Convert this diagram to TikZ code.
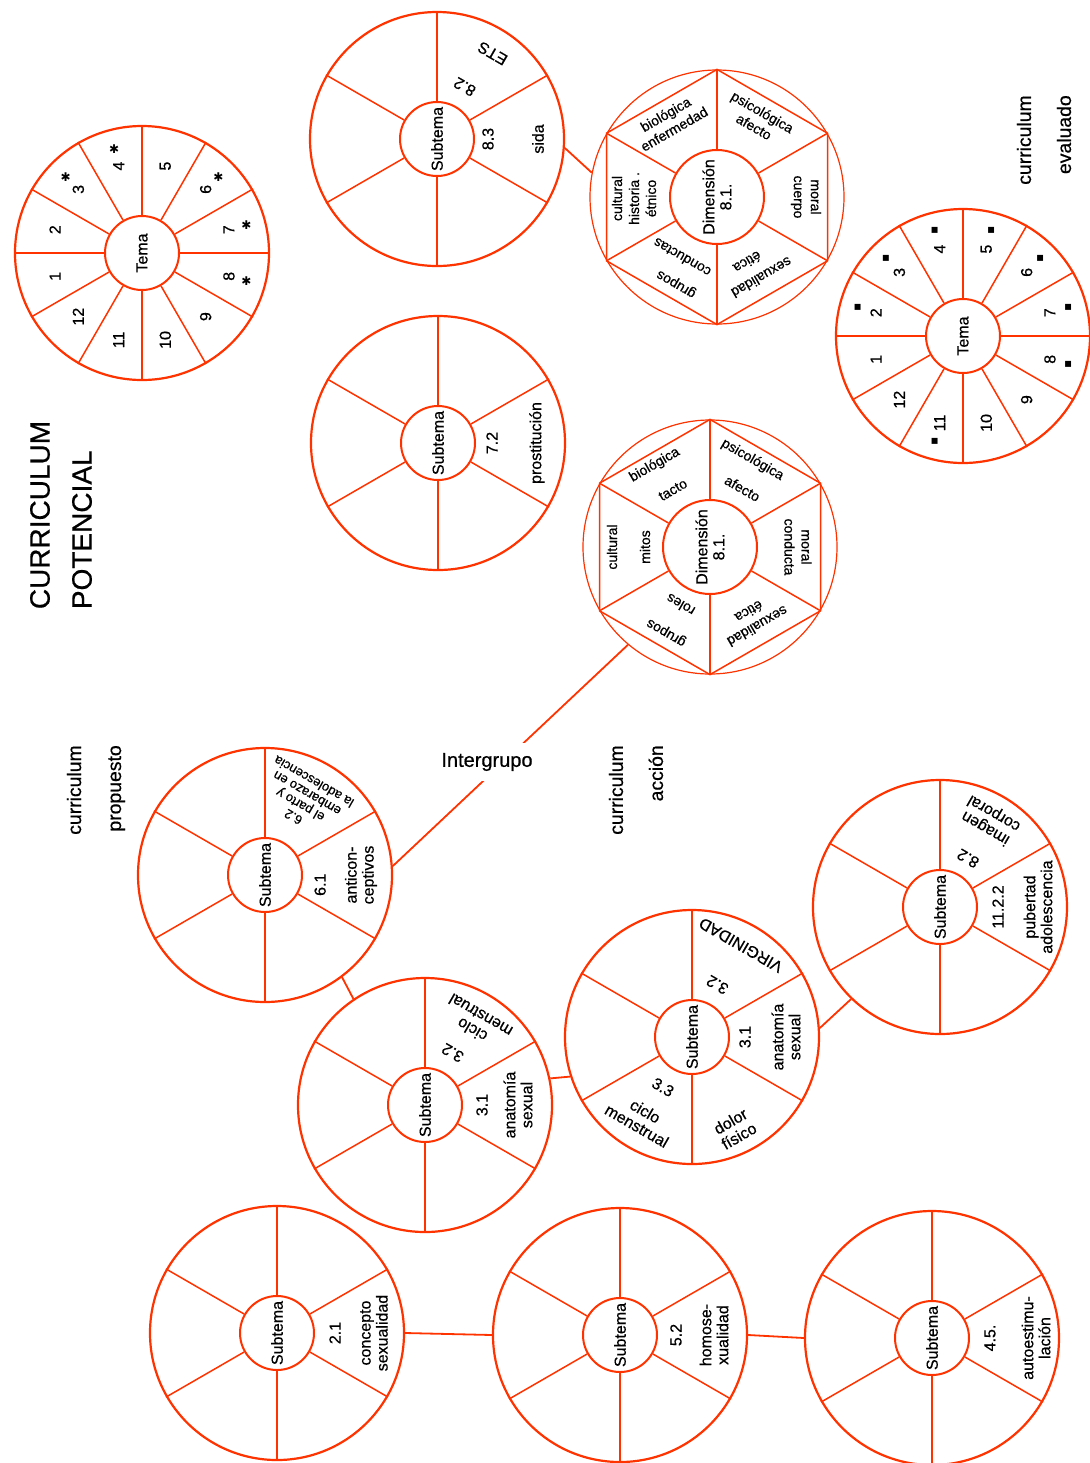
\documentclass[tikz,border=0pt]{standalone}
\usepackage{fontspec}
\setmainfont{Liberation Sans}[FakeBold=0.6]
\newfontfamily\markfont{DejaVu Sans}
\definecolor{ored}{RGB}{255,51,0}

% wheel with six sectors
\newcommand\subwheel[2]{%
  \node[rim] (#1) at (#2) {};
  \node[hub] (#1-hub) at (#2) {};
  \node[vtxt] (#1-name) at (#2) {Subtema};
  \foreach \a in {30,150,210,330} \draw[spoke] (#1-hub.\a) -- (#1.\a);
  \foreach \a in {90,270} \draw[axle] (#1-hub.\a) -- (#1.\a);
}
% wheel with twelve numbered sectors
\newcommand\temawheel[2]{%
  \node[rim] (#1) at (#2) {};
  \node[hub] (#1-hub) at (#2) {};
  \node[vtxt] (#1-name) at (#2) {Tema};
  \foreach \a in {30,60,120,150,210,240,300,330} \draw[spoke] (#1-hub.\a) -- (#1.\a);
  \foreach \a in {0,90,180,270} \draw[axle] (#1-hub.\a) -- (#1.\a);
  \foreach \n in {1,...,12} \node[vtxt] (#1-t\n) at ([shift={(225-30*\n:90)}]#1.center) {\n};
}
% wheel with hexagon
\newcommand\dimwheel[2]{%
  \node[thinrim] (#1) at (#2) {};
  \node[bighub] (#1-hub) at (#2) {};
  \node[vtxt] (#1-name) at (#2) {Dimensión\\8.1.};
  \draw[spoke] (#1.90) -- (#1.30) -- (#1.-30) -- (#1.-90) -- (#1.-150) -- (#1.150) -- cycle;
  \foreach \a in {30,150,210,330} \draw[spoke] (#1-hub.\a) -- (#1.\a);
  \foreach \a in {90,270} \draw[axle] (#1-hub.\a) -- (#1.\a);
}

\begin{document}
\begin{tikzpicture}[x=0.5pt,y=0.5pt,
    rim/.style={circle,draw=ored,line width=1.1pt,minimum size=127pt,inner sep=0pt},
    thinrim/.style={rim,line width=0.6pt},
    hub/.style={circle,draw=ored,line width=1pt,minimum size=37pt,inner sep=0pt},
    bighub/.style={hub,minimum size=47pt},
    spoke/.style={ored,line width=0.75pt},
    axle/.style={ored,line width=1.1pt},
    link/.style={ored,line width=0.9pt},
    txt/.style={inner sep=0pt,align=center,font=\fontsize{8}{8.5}\selectfont},
    vtxt/.style={txt,rotate=90},
    dtxt/.style={txt,font=\fontsize{7}{8.5}\selectfont},
    dotmark/.style={inner sep=0pt,font=\markfont\fontsize{6}{6}\selectfont},
    title/.style={inner sep=0pt,rotate=90,font=\fontsize{9.7}{20}\selectfont}]
  \useasboundingbox (0,0) rectangle (1090,-1463);

  % Tema wheels
  \temawheel{T1}{142,-253}
  \temawheel{T2}{963,-336}
  \foreach \n in {3,4,6,7,8} \node[dotmark] (T1-m\n) at ([shift={(225-30*\n:108)}]T1.center) {✱};
  \foreach \n in {2,3,4,5,6,7,8,11} \node[dotmark] (T2-m\n) at ([shift={(225-30*\n:109)}]T2.center) {▪};

  % Subtema wheels
  \subwheel{B}{437,-139}
  \subwheel{E}{438,-443}
  \subwheel{G}{265,-875}
  \subwheel{H}{425,-1105}
  \subwheel{I}{692,-1037}
  \subwheel{J}{940,-907}
  \subwheel{K1}{277,-1333}
  \subwheel{K2}{620,-1335}
  \subwheel{K3}{932,-1338}

  % Dimension wheels
  \dimwheel{C}{717,-197}
  \dimwheel{F}{710,-547}

  % links
  \draw[link] (B.-4) -- (C.169);
  \draw[link] (F.230) -- (G.4);
  \node[txt,fill=white,font=\fontsize{10}{10}\selectfont,inner xsep=1pt,inner ysep=5pt] (Ig) at (487,-762) {Intergrupo};
  \draw[link] (G.-53) -- (H.124);
  \draw[link] (H.12) -- (I.198);
  \draw[link] (I.4) -- (J.226);
  \draw[link] (K1.0) -- (K2.180);
  \draw[link] (K2.0) -- (K3.180);

  % sector texts
  \node[vtxt] (B-n1) at ([shift={(0:51)}]B.center) {8.3};
  \node[vtxt] (B-w1) at ([shift={(0:101)}]B.center) {sida};
  \node[txt,rotate=150] (B-n2) at ([shift={(62:59)}]B.center) {8.2};
  \node[txt,rotate=150] (B-w2) at ([shift={(57:102)}]B.center) {ETS};

  \node[vtxt] (E-n1) at ([shift={(0:54)}]E.center) {7.2};
  \node[vtxt] (E-w1) at ([shift={(0:99)}]E.center) {prostitución};

  \node[vtxt] (G-n1) at ([shift={(-10:56)}]G.center) {6.1};
  \node[vtxt] (G-w1) at ([shift={(0:96)}]G.center) {anticon-\\ceptivos};
  \node[txt,rotate=150,font=\fontsize{6.5}{6.8}\selectfont] (G-w2) at ([shift={(63:85)}]G.center) {6.2\\el parto y\\embarazo en\\la adolescencia};

  \node[vtxt] (H-n1) at ([shift={(0:57)}]H.center) {3.1};
  \node[vtxt] (H-w1) at ([shift={(0:93)}]H.center) {anatomía\\sexual};
  \node[txt,rotate=150] (H-n2) at ([shift={(62:59)}]H.center) {3.2};
  \node[txt,rotate=150] (H-w2) at ([shift={(58:97)}]H.center) {ciclo\\menstrual};

  \node[vtxt] (I-n1) at ([shift={(0:53)}]I.center) {3.1};
  \node[vtxt] (I-w1) at ([shift={(0:94)}]I.center) {anatomía\\sexual};
  \node[txt,rotate=150] (I-n2) at ([shift={(64:58)}]I.center) {3.2};
  \node[txt,rotate=150] (I-w2) at ([shift={(62:104)}]I.center) {VIRGINIDAD};
  \node[txt,rotate=-30] (I-n3) at ([shift={(240:58)}]I.center) {3.3};
  \node[txt,rotate=-30] (I-w3) at ([shift={(238:96)}]I.center) {ciclo\\menstrual};
  \node[txt,rotate=30] (I-w4) at ([shift={(-65:101)}]I.center) {dolor\\físico};

  \node[vtxt] (J-n1) at ([shift={(0:58)}]J.center) {11.2.2};
  \node[vtxt] (J-w1) at ([shift={(0:98)}]J.center) {pubertad\\adolescencia};
  \node[txt,rotate=150] (J-n2) at ([shift={(60:56)}]J.center) {8.2};
  \node[txt,rotate=150] (J-w2) at ([shift={(60:100)}]J.center) {imagen\\corporal};

  \node[vtxt] (K1-n1) at ([shift={(0:58)}]K1.center) {2.1};
  \node[vtxt] (K1-w1) at ([shift={(0:97)}]K1.center) {concepto\\sexualidad};
  \node[vtxt] (K2-n1) at ([shift={(0:56)}]K2.center) {5.2};
  \node[vtxt] (K2-w1) at ([shift={(0:94)}]K2.center) {homose-\\xualidad};
  \node[vtxt] (K3-n1) at ([shift={(0:58)}]K3.center) {4.5.};
  \node[vtxt] (K3-w1) at ([shift={(0:104)}]K3.center) {autoestimu-\\lación};

  \node[dtxt,rotate=-30] (C-w1) at ([shift={(62:88)}]C.center) {psicológica\\afecto};
  \node[dtxt,rotate=30] (C-w2) at ([shift={(122:89)}]C.center) {biológica\\enfermedad};
  \node[dtxt,rotate=90] (C-w3) at ([shift={(181:83)}]C.center) {cultural\\historia .\\étnico};
  \node[dtxt,rotate=-90] (C-w4) at ([shift={(0:89)}]C.center) {moral\\cuerpo};
  \node[dtxt,rotate=-150] (C-w5) at ([shift={(-61:92)}]C.center) {sexualidad};
  \node[dtxt,rotate=-150] (C-w6) at ([shift={(-65:72)}]C.center) {ética};
  \node[dtxt,rotate=150] (C-w7) at ([shift={(245:95)}]C.center) {grupos};
  \node[dtxt,rotate=150] (C-w8) at ([shift={(240:70)}]C.center) {conductas};

  \node[dtxt,rotate=30] (F-w1) at ([shift={(124:99)}]F.center) {biológica};
  \node[dtxt,rotate=30] (F-w2) at ([shift={(123:68)}]F.center) {tacto};
  \node[dtxt,rotate=-30] (F-w3) at ([shift={(64:97)}]F.center) {psicológica};
  \node[dtxt,rotate=-30] (F-w4) at ([shift={(61:67)}]F.center) {afecto};
  \node[dtxt,rotate=90] (F-w5) at ([shift={(180:98)}]F.center) {cultural};
  \node[dtxt,rotate=90] (F-w6) at ([shift={(180:65)}]F.center) {mitos};
  \node[dtxt,rotate=-90] (F-w7) at ([shift={(0:88)}]F.center) {moral\\conducta};
  \node[dtxt,rotate=-150] (F-w8) at ([shift={(-59:84)}]F.center) {sexualidad\\ética};
  \node[dtxt,rotate=150] (F-w9) at ([shift={(243:95)}]F.center) {grupos};
  \node[dtxt,rotate=150] (F-w10) at ([shift={(243:65)}]F.center) {roles};

  % titles
  \node[title,align=left,font=\fontsize{14}{21}\selectfont] (potencial) at (61,-515) {CURRICULUM\\POTENCIAL};
  \node[title,align=right] (propuesto) at (96,-790) {curriculum\\propuesto};
  \node[title,align=right] (accion) at (636,-790) {curriculum\\acción};
  \node[title,align=right] (evaluado) at (1044,-140) {curriculum\\evaluado};
\end{tikzpicture}
\end{document}
